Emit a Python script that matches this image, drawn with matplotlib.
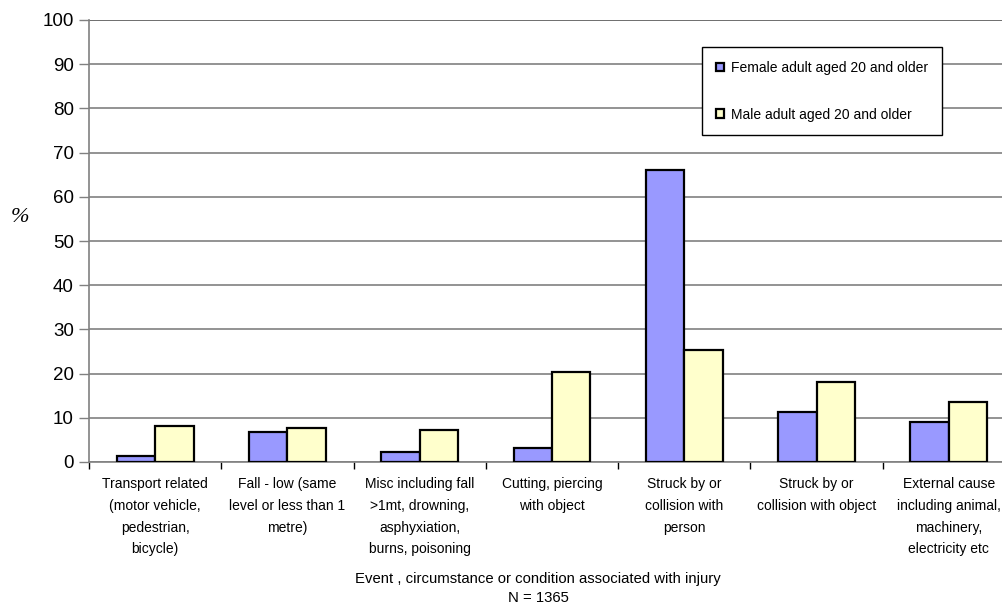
import matplotlib
matplotlib.use('Agg')
from matplotlib import pyplot as plt
import numpy as np

plt.rcParams['font.family'] = ['Liberation Sans', 'DejaVu Sans']

categories = [
    'Transport related\n(motor vehicle,\npedestrian,\nbicycle)',
    'Fall - low (same\nlevel or less than 1\nmetre)',
    'Misc including fall\n>1mt, drowning,\nasphyxiation,\nburns, poisoning',
    'Cutting, piercing\nwith object',
    'Struck by or\ncollision with\nperson',
    'Struck by or\ncollision with object',
    'External cause\nincluding animal,\nmachinery,\nelectricity etc',
]
female = [1.4, 6.9, 2.3, 3.2, 66.1, 11.3, 9.0]
male = [8.2, 7.8, 7.3, 20.4, 25.3, 18.2, 13.6]
series_labels = ['Female adult aged 20 and older', 'Male adult aged 20 and older']
yticks = list(range(0, 101, 10))

fig = plt.figure(figsize=(10.02, 6.09), dpi=100)
ax = fig.add_axes([89 / 1002, 1 - 462 / 609, 926 / 1002, 442 / 609])

x = np.arange(len(categories))
w = 0.29
ax.bar(x - w / 2, female, w, color='#9999FF', edgecolor='black', linewidth=1.6,
       label=series_labels[0], zorder=3)
ax.bar(x + w / 2, male, w, color='#FFFFCC', edgecolor='black', linewidth=1.6,
       label=series_labels[1], zorder=3)

ax.set_xlim(-0.5, len(categories) - 0.5)
ax.set_ylim(0, 100)
ax.set_yticks(yticks)
ax.tick_params(axis='y', labelsize=13.5, length=7, width=1, color='#808080', pad=4)
ax.yaxis.grid(True, color='#808080', linewidth=1.2, zorder=0)

ax.set_xticks(x)
ax.set_xticklabels(categories, fontsize=10, linespacing=1.7, va='top')
ax.tick_params(axis='x', length=0, pad=11)
ax.set_xticks(np.arange(-0.5, len(categories)), minor=True)
ax.tick_params(axis='x', which='minor', length=5, width=1, color='black')

for s in ['top', 'right']:
    ax.spines[s].set_visible(False)
ax.spines['left'].set_color('#808080')
ax.spines['left'].set_linewidth(1.2)
ax.spines['bottom'].set_color('#808080')
ax.spines['bottom'].set_linewidth(1.2)
ax.axhline(100, color='black', linewidth=1.2, zorder=1)

fig.text(20 / 1002, 1 - 218 / 609, '%', fontsize=16, style='italic',
         family='Liberation Serif', ha='center', va='center')
fig.text(538 / 1002, 1 - 579 / 609,
         'Event , circumstance or condition associated with injury',
         fontsize=10.7, ha='center', va='center')
fig.text(538 / 1002, 1 - 598 / 609, 'N = 1365', fontsize=10.7,
         ha='center', va='center')

leg = ax.legend(loc='upper left', bbox_to_anchor=(702 / 1002, 1 - 47 / 609),
                bbox_transform=fig.transFigure, borderaxespad=0,
                fontsize=10, frameon=True, fancybox=False, framealpha=1,
                handlelength=0.6, handleheight=0.6, handletextpad=0.5,
                labelspacing=2.35, borderpad=1.0)
leg.get_frame().set_edgecolor('black')
leg.get_frame().set_linewidth(1)

fig.savefig('out.png', dpi=100)
